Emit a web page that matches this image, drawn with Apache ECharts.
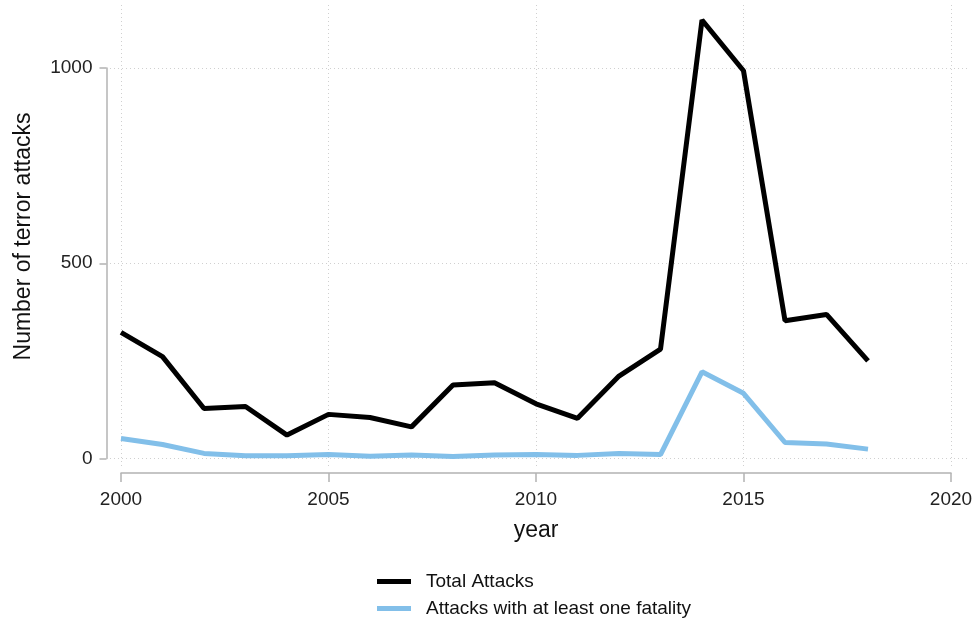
<!DOCTYPE html>
<html>
<head>
<meta charset="utf-8">
<script src="https://cdn.jsdelivr.net/npm/echarts@6/dist/echarts.min.js"></script>
<style>
  html, body { margin: 0; padding: 0; background: #fff; }
  #chart { width: 974px; height: 626px; }
</style>
</head>
<body>
<div id="chart"></div>
<script>
// data
var years = [2000, 2001, 2002, 2003, 2004, 2005, 2006, 2007, 2008, 2009,
             2010, 2011, 2012, 2013, 2014, 2015, 2016, 2017, 2018];
var totalAttacks = [323, 261, 128, 133, 60, 113, 105, 81, 188, 194,
                    140, 103, 211, 280, 1123, 993, 353, 369, 250];
var fatalAttacks = [51, 36, 13, 7, 7, 10, 6, 9, 5, 9,
                    10, 8, 13, 10, 222, 167, 41, 37, 24];
var xTicks = [2000, 2005, 2010, 2015, 2020];
var yTicks = [0, 500, 1000];

var fontFam = '"Liberation Sans", Arial, sans-serif';
var axisGrey = '#b3b3b3';
var gridStyle = { color: '#d0d0d0', type: [1, 3], width: 1 };

function pairs(vals) {
    var out = [];
    for (var i = 0; i < vals.length; i++) out.push([years[i], vals[i]]);
    return out;
}
function plain(v) { return String(v); }

var myChart = echarts.init(document.getElementById('chart'));
var option = {
    backgroundColor: '#fff',
    animation: false,
    textStyle: { fontFamily: fontFam },
    grid: [
        // data grid: 2000..2020 by 0..1000
        { left: 121, right: 23, top: 68, bottom: 167.5, outerBoundsMode: 'none', containLabel: false },
        // taller grid, vertical grid lines + y title
        { left: 121, right: 23, top: 5, bottom: 158, outerBoundsMode: 'none', containLabel: false },
        // wider grid, horizontal grid lines
        { left: 110, right: 6, top: 68, bottom: 167.5, outerBoundsMode: 'none', containLabel: false }
    ],
    xAxis: [
        {
            gridIndex: 0, type: 'value', min: xTicks[0], max: xTicks[xTicks.length - 1], interval: 5,
            offset: 14.5,
            name: 'year', nameLocation: 'middle', nameGap: 46,
            nameTextStyle: { fontSize: 23, color: '#111', fontFamily: fontFam },
            axisLine: { show: true, onZero: false, lineStyle: { color: axisGrey, width: 1.5 } },
            axisTick: { show: true, length: 9, lineStyle: { color: axisGrey, width: 1.5 } },
            axisLabel: { fontSize: 19, color: '#222', margin: 17, fontFamily: fontFam, formatter: plain },
            splitLine: { show: false }
        },
        {
            gridIndex: 1, type: 'value', min: xTicks[0], max: xTicks[xTicks.length - 1], interval: 5,
            axisLine: { show: false }, axisTick: { show: false }, axisLabel: { show: false },
            splitLine: { show: true, lineStyle: gridStyle }
        },
        {
            gridIndex: 2, type: 'value', min: 0, max: 1,
            axisLine: { show: false }, axisTick: { show: false }, axisLabel: { show: false },
            splitLine: { show: false }
        }
    ],
    yAxis: [
        {
            gridIndex: 0, type: 'value', min: yTicks[0], max: yTicks[yTicks.length - 1], interval: 500,
            offset: 14.5,
            axisLine: { show: true, onZero: false, lineStyle: { color: axisGrey, width: 1.5 } },
            axisTick: { show: true, length: 7, lineStyle: { color: axisGrey, width: 1.5 } },
            axisLabel: { fontSize: 19, color: '#222', margin: 14, fontFamily: fontFam, formatter: plain },
            splitLine: { show: false }
        },
        {
            gridIndex: 1, type: 'value', min: 0, max: 1,
            name: 'Number of terror attacks', nameLocation: 'middle', nameGap: 86,
            nameTextStyle: { fontSize: 23, color: '#111', fontFamily: fontFam },
            axisLine: { show: false }, axisTick: { show: false }, axisLabel: { show: false },
            splitLine: { show: false }
        },
        {
            gridIndex: 2, type: 'value', min: yTicks[0], max: yTicks[yTicks.length - 1], interval: 500,
            axisLine: { show: false }, axisTick: { show: false }, axisLabel: { show: false },
            splitLine: { show: true, lineStyle: gridStyle }
        }
    ],
    legend: {
        orient: 'vertical',
        left: 372,
        top: 567,
        itemWidth: 34,
        itemHeight: 5,
        itemGap: 8,
        icon: 'rect',
        textStyle: { fontSize: 19, color: '#111', fontFamily: fontFam, padding: [0, 0, 0, 10] },
        data: ['Total Attacks', 'Attacks with at least one fatality']
    },
    series: [
        {
            name: 'Total Attacks',
            type: 'line',
            xAxisIndex: 0, yAxisIndex: 0,
            clip: false,
            symbol: 'none',
            color: '#000',
            lineStyle: { color: '#000', width: 5 },
            data: pairs(totalAttacks),
            z: 3
        },
        {
            name: 'Attacks with at least one fatality',
            type: 'line',
            xAxisIndex: 0, yAxisIndex: 0,
            clip: false,
            symbol: 'none',
            color: '#82bfe9',
            lineStyle: { color: '#82bfe9', width: 5 },
            data: pairs(fatalAttacks),
            z: 2
        }
    ]
};
myChart.setOption(option);
</script>
</body>
</html>
